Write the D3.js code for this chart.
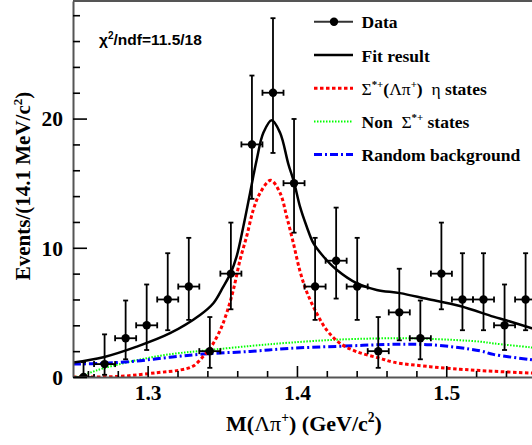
<!DOCTYPE html>
<html>
<head>
<meta charset="utf-8">
<script src="https://cdn.jsdelivr.net/npm/d3@7"></script>
<style>
body{margin:0;background:#fff}
text{white-space:pre}
</style>
</head>
<body>
<script>
// data: bins of 14.1 MeV starting at 1.25 GeV
var binCenters=[1.25705,1.27115,1.28525,1.29935,1.31345,1.32755,1.34165,1.35575,1.36985,1.38395,1.39805,
    1.41215,1.42625,1.44035,1.45445,1.46855,1.48265,1.49675,1.51085,1.52495,1.53905,1.55315]
var counts=[0,1,3,4,6,7,2,8,18,22,15,7,9,7,2,5,3,8,6,6,4,6]
var errLo=[0,0.83,1.63,1.91,2.38,2.58,1.29,2.76,4.21,4.66,3.83,2.58,2.93,2.58,1.29,2.16,1.63,2.76,2.38,2.38,1.91,2.38]
var errHi=[1.15,2.30,2.92,3.16,3.58,3.77,2.64,3.95,5.33,5.77,4.97,3.77,4.11,3.77,2.64,3.38,2.92,3.95,3.58,3.58,3.16,3.58]
var binWidth=0.0141

// fit result (total)
var fitMass=[1.2500,1.2703,1.2927,1.3150,1.3351,1.3440,1.3507,1.3556,1.3596,1.3641,1.3686,1.3730,1.3775,1.3831,1.3887,
    1.3942,1.3982,1.4020,1.4065,1.4110,1.4177,1.4266,1.4400,1.4534,1.4690,1.4869,1.5092,1.5315,1.5405,1.5574,1.5650]
var fitVal=[1.12,1.53,2.35,3.39,4.80,5.71,7.00,8.04,9.33,11.65,14.24,16.80,18.90,19.87,18.90,
    16.50,15.00,13.20,11.65,10.36,9.33,8.30,7.26,6.74,6.49,6.05,5.50,4.67,4.37,3.77,3.50]
// Sigma*+ signal
var sigMass=[1.2500,1.2815,1.3061,1.3217,1.3306,1.3373,1.3418,1.3485,1.3529,1.3574,1.3619,1.3663,1.3708,1.3753,1.3824,
    1.3887,1.3931,1.3976,1.4020,1.4065,1.4132,1.4199,1.4288,1.4400,1.4556,1.4645,1.4891,1.5092,1.5226,1.5574,1.5650]
var sigVal=[0.00,0.05,0.33,0.54,0.85,1.60,2.20,3.60,4.94,6.74,9.07,10.88,12.95,14.24,15.22,
    14.24,12.43,10.36,8.20,6.60,4.94,3.64,2.61,1.96,1.45,1.15,0.80,0.60,0.50,0.30,0.27]
// non Sigma*+
var nonMass=[1.2500,1.2547,1.2614,1.2703,1.2927,1.3150,1.3373,1.3686,1.3953,1.4288,1.4668,1.4891,1.5226,1.5315,1.5561,1.5650]
var nonVal=[0.00,0.05,0.33,0.67,1.30,1.76,2.04,2.40,2.66,2.90,3.00,2.95,2.74,2.60,2.30,2.18]
// random background
var rndMass=[1.2500,1.2703,1.2927,1.3150,1.3373,1.3686,1.3953,1.4288,1.4668,1.4891,1.5226,1.5315,1.5561,1.5650]
var rndVal=[1.00,1.06,1.24,1.53,1.78,1.98,2.22,2.38,2.53,2.50,2.03,1.75,1.35,1.20]

var xMajor=[1.3,1.4,1.5]
var xMinor=[1.26,1.28,1.32,1.34,1.36,1.38,1.42,1.44,1.46,1.48,1.52,1.54,1.56]
var yMajor=[0,10,20]
var yMinor=[2,4,6,8,12,14,16,18,22,24,26,28]

var legendRows=[
    {key:"data",parts:[["Data"]]},
    {key:"fit",parts:[["Fit result"]]},
    {key:"sig",parts:[["Σ","g"],["*+","s"],["("],["Λπ","g"],["+","s"],[")  "],["η","g"],[" states"]]},
    {key:"non",parts:[["Non  "],["Σ","g"],["*+","s"],[" states"]]},
    {key:"rnd",parts:[["Random background"]]}
]

var W=532,H=445
var L=73,B=377,T=1
var serif="'Liberation Serif','Times New Roman',serif"

var svg=d3.select("body").append("svg").attr("width",W).attr("height",H)
    .style("display","block")

var x=d3.scaleLinear().domain([1.25,1.57]).range([L,L+0.32*1493])
var y=d3.scaleLinear().domain([0,29.1]).range([B,T])

svg.append("clipPath").attr("id","plot").append("rect")
    .attr("x",L).attr("y",T).attr("width",x(1.57)-L).attr("height",B-T)

// rich text with greek (regular) and superscripts
function richText(g,parts,px,py,size,anchor){
    var t=g.append("text").attr("x",px).attr("y",py)
        .attr("font-family",serif).attr("font-size",size).attr("font-weight","bold")
        .attr("text-anchor",anchor||"start").attr("fill","#000")
    var up=false
    parts.forEach(function(p){
        var ts=t.append("tspan").text(p[0])
        if (p[1]==="g") ts.attr("font-weight","normal")
        if (p[1]==="s"){
            ts.attr("font-size",size*0.62).attr("dy",-size*0.40)
            up=true
        } else if (up){
            ts.attr("dy",size*0.40)
            up=false
        }
    })
    return t
}

// curves
var line=d3.line().x(function(d){return x(d[0])}).y(function(d){return y(d[1])})
    .curve(d3.curveCatmullRom.alpha(0.5))
var curves=svg.append("g").attr("clip-path","url(#plot)")
function zip(a,b){return a.map(function(v,i){return [v,b[i]]})}

curves.append("path").datum(zip(nonMass,nonVal)).attr("d",line)
    .attr("fill","none").attr("stroke","#00ff00").attr("stroke-width",2).attr("stroke-dasharray","1.5,1.5")
curves.append("path").datum(zip(rndMass,rndVal)).attr("d",line)
    .attr("fill","none").attr("stroke","#0000ff").attr("stroke-width",3).attr("stroke-dasharray","8,3,2,3")
curves.append("path").datum(zip(sigMass,sigVal)).attr("d",line)
    .attr("fill","none").attr("stroke","#ff0000").attr("stroke-width",3).attr("stroke-dasharray","3.5,2.5")
curves.append("path").datum(zip(fitMass,fitVal)).attr("d",line)
    .attr("fill","none").attr("stroke","#000").attr("stroke-width",2.5)

// data points with error bars
var pts=svg.append("g").attr("clip-path","url(#plot)").selectAll("g.pt")
    .data(counts.map(function(c,i){return {m:binCenters[i],n:c,lo:errLo[i],hi:errHi[i]}}))
    .enter().append("g").attr("class","pt")
pts.each(function(d){
    var g=d3.select(this)
    var cx=x(d.m),cy=y(d.n)
    var x0=x(d.m-binWidth/2),x1=x(d.m+binWidth/2)
    var y0=y(d.n-d.lo),y1=y(d.n+d.hi)
    var s={"stroke":"#000","stroke-width":1.8}
    function seg(a,b,c,e){
        var l=g.append("line").attr("x1",a).attr("y1",b).attr("x2",c).attr("y2",e)
        for (var k in s) l.attr(k,s[k])
    }
    seg(x0,cy,x1,cy)
    seg(x0,cy-3,x0,cy+3)
    seg(x1,cy-3,x1,cy+3)
    seg(cx,y1,cx,y0)
    seg(cx-2.5,y1,cx+2.5,y1)
    if (d.lo>0) seg(cx-2.5,y0,cx+2.5,y0)
    g.append("circle").attr("cx",cx).attr("cy",cy).attr("r",4.2).attr("fill","#000")
})

// axes
var axisColor="#555"
var xAx=svg.append("g").attr("transform","translate(0,"+B+")")
    .call(d3.axisBottom(x).tickValues(xMajor).tickSize(-11).tickSizeOuter(0).tickFormat(d3.format(".1f")))
svg.append("g").attr("transform","translate(0,"+B+")")
    .call(d3.axisBottom(x).tickValues(xMinor).tickSize(-6).tickSizeOuter(0).tickFormat(""))
    .select(".domain").remove()
var yAx=svg.append("g").attr("transform","translate("+L+",0)")
    .call(d3.axisLeft(y).tickValues(yMajor).tickSize(-14).tickSizeOuter(0))
svg.append("g").attr("transform","translate("+L+",0)")
    .call(d3.axisLeft(y).tickValues(yMinor).tickSize(-7).tickSizeOuter(0).tickFormat(""))
    .select(".domain").remove()

svg.selectAll(".domain").attr("stroke",axisColor).attr("stroke-width",2)
svg.selectAll(".tick line").attr("stroke","#000").attr("stroke-width",1.6)
xAx.selectAll("text").attr("font-family",serif).attr("font-weight","bold").attr("font-size",21.5)
    .attr("fill","#000").attr("y",23).attr("dy",0)
yAx.selectAll("text").attr("font-family",serif).attr("font-weight","bold").attr("font-size",21.5)
    .attr("fill","#000").attr("x",-10).attr("dy","0.34em")

// top frame
svg.append("line").attr("x1",L).attr("x2",W).attr("y1",T).attr("y2",T)
    .attr("stroke",axisColor).attr("stroke-width",2)

// axis titles
richText(svg,[["M("],["Λπ","g"],["+","s"],[") (GeV/c"],["2","s"],[")"]],304,431,22,"middle")
var yt=svg.append("g").attr("transform","translate(30,186) rotate(-90)")
richText(yt,[["Events/(14.1 MeV/c"],["2","s"],[")"]],0,0,21,"middle")

// chi2 label
var chi=svg.append("text").attr("x",99).attr("y",44.5)
    .attr("font-family","'Liberation Sans',Arial,sans-serif").attr("font-weight","bold").attr("font-size",15.5)
chi.append("tspan").text("χ")
chi.append("tspan").text("2").attr("font-size",10).attr("dy",-6)
chi.append("tspan").text("/ndf=11.5/18").attr("dy",6)

// legend
var lg=svg.append("g")
legendRows.forEach(function(r,i){
    var by=28.3+i*33.2, ly=by-6.5
    var l=lg.append("line").attr("x1",314).attr("x2",353).attr("y1",ly).attr("y2",ly)
    if (r.key==="data"){
        l.attr("stroke","#333").attr("stroke-width",2)
        lg.append("circle").attr("cx",334).attr("cy",ly).attr("r",4.2).attr("fill","#000")
    } else if (r.key==="fit"){
        l.attr("stroke","#000").attr("stroke-width",2.5)
    } else if (r.key==="sig"){
        l.attr("stroke","#ff0000").attr("stroke-width",3).attr("stroke-dasharray","3.5,2.5")
    } else if (r.key==="non"){
        l.attr("stroke","#00ff00").attr("stroke-width",2).attr("stroke-dasharray","1.5,1.5")
    } else {
        l.attr("stroke","#0000ff").attr("stroke-width",3).attr("stroke-dasharray","8,3,2,3")
    }
    richText(lg,r.parts,361.5,by,17.5,"start")
})
</script>
</body>
</html>
